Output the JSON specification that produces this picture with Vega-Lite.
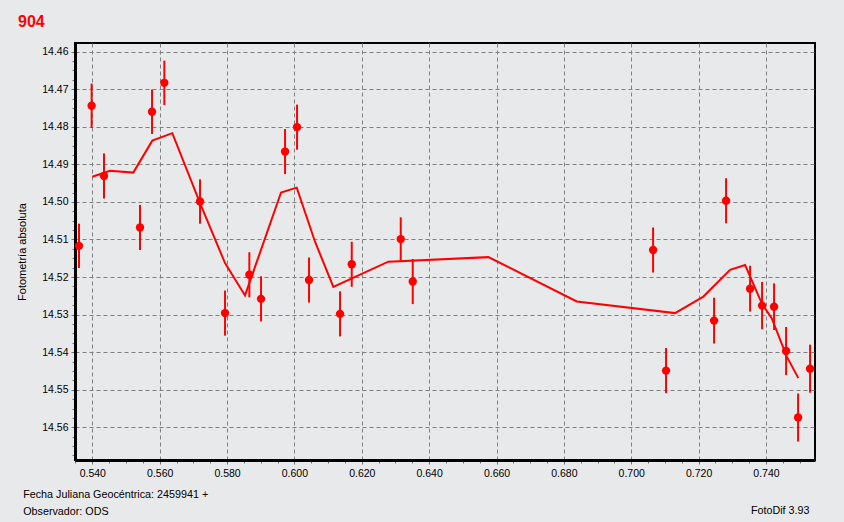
{
  "$schema": "https://vega.github.io/schema/vega-lite/v6.json",
  "width": 740,
  "height": 417,
  "autosize": {"type": "none"},
  "padding": {"left": 75, "top": 43, "right": 29, "bottom": 62},
  "background": "#e8e9ea",
  "title": {
    "text": "904",
    "anchor": "start",
    "frame": "group",
    "dx": -57,
    "dy": 17,
    "offset": 17,
    "baseline": "alphabetic",
    "color": "#ff0000",
    "font": "Liberation Sans",
    "fontSize": 16,
    "fontWeight": "bold"
  },
  "config": {
    "view": {"stroke": "#000000", "strokeWidth": 2, "fill": "#e8e9ea"},
    "axis": {
      "labelFont": "Liberation Sans",
      "labelFontSize": 10.5,
      "labelColor": "#000000",
      "titleFont": "Liberation Sans",
      "titleFontWeight": "normal",
      "titleColor": "#000000",
      "gridColor": "#808080",
      "gridDash": [4, 3],
      "gridWidth": 1,
      "tickColor": "#707070",
      "domain": true,
      "domainColor": "#000000",
      "domainWidth": 3
    }
  },
  "datasets": {
    "obs": [
      {"jd": 0.53605, "mag": 14.5117, "lo": 14.5058, "hi": 14.5176},
      {"jd": 0.5398, "mag": 14.4744, "lo": 14.4685, "hi": 14.4803},
      {"jd": 0.54347, "mag": 14.4931, "lo": 14.4871, "hi": 14.4991},
      {"jd": 0.55416, "mag": 14.5068, "lo": 14.5008, "hi": 14.5128},
      {"jd": 0.55773, "mag": 14.476, "lo": 14.4701, "hi": 14.4819},
      {"jd": 0.56138, "mag": 14.4683, "lo": 14.4624, "hi": 14.4742},
      {"jd": 0.57198, "mag": 14.4999, "lo": 14.494, "hi": 14.5058},
      {"jd": 0.5794, "mag": 14.5296, "lo": 14.5236, "hi": 14.5356},
      {"jd": 0.58662, "mag": 14.5194, "lo": 14.5134, "hi": 14.5254},
      {"jd": 0.59009, "mag": 14.5258, "lo": 14.5198, "hi": 14.5318},
      {"jd": 0.59722, "mag": 14.4866, "lo": 14.4806, "hi": 14.4926},
      {"jd": 0.60078, "mag": 14.4801, "lo": 14.4741, "hi": 14.4861},
      {"jd": 0.60434, "mag": 14.5208, "lo": 14.5148, "hi": 14.5268},
      {"jd": 0.61355, "mag": 14.5298, "lo": 14.5238, "hi": 14.5358},
      {"jd": 0.61702, "mag": 14.5166, "lo": 14.5106, "hi": 14.5226},
      {"jd": 0.63157, "mag": 14.5099, "lo": 14.5041, "hi": 14.5157},
      {"jd": 0.63513, "mag": 14.5212, "lo": 14.5152, "hi": 14.5272},
      {"jd": 0.70648, "mag": 14.5128, "lo": 14.5068, "hi": 14.5188},
      {"jd": 0.71033, "mag": 14.5449, "lo": 14.5389, "hi": 14.5509},
      {"jd": 0.72459, "mag": 14.5316, "lo": 14.5255, "hi": 14.5377},
      {"jd": 0.72815, "mag": 14.4997, "lo": 14.4937, "hi": 14.5057},
      {"jd": 0.73528, "mag": 14.5231, "lo": 14.517, "hi": 14.5292},
      {"jd": 0.73884, "mag": 14.5276, "lo": 14.5213, "hi": 14.5339},
      {"jd": 0.7424, "mag": 14.5279, "lo": 14.5217, "hi": 14.5341},
      {"jd": 0.74597, "mag": 14.5397, "lo": 14.5333, "hi": 14.5461},
      {"jd": 0.74953, "mag": 14.5574, "lo": 14.551, "hi": 14.5638},
      {"jd": 0.75309, "mag": 14.5444, "lo": 14.538, "hi": 14.5508}
    ],
    "model": [
      {"jd": 0.54, "mag": 14.4933},
      {"jd": 0.54526, "mag": 14.4917},
      {"jd": 0.55217, "mag": 14.4922},
      {"jd": 0.55781, "mag": 14.4837},
      {"jd": 0.56375, "mag": 14.4817},
      {"jd": 0.57198, "mag": 14.5003},
      {"jd": 0.5794, "mag": 14.5163},
      {"jd": 0.58534, "mag": 14.5249},
      {"jd": 0.59603, "mag": 14.4975},
      {"jd": 0.60069, "mag": 14.4962},
      {"jd": 0.60612, "mag": 14.5106},
      {"jd": 0.61156, "mag": 14.5226},
      {"jd": 0.62789, "mag": 14.5159},
      {"jd": 0.65758, "mag": 14.5147},
      {"jd": 0.68382, "mag": 14.5265},
      {"jd": 0.71301, "mag": 14.5296},
      {"jd": 0.72141, "mag": 14.5252},
      {"jd": 0.72934, "mag": 14.5181},
      {"jd": 0.7338, "mag": 14.5168},
      {"jd": 0.73875, "mag": 14.527},
      {"jd": 0.74172, "mag": 14.531},
      {"jd": 0.74618, "mag": 14.5412},
      {"jd": 0.74962, "mag": 14.5469}
    ]
  },
  "layer": [
    {
      "data": {"name": "obs"},
      "mark": {"type": "point", "filled": true, "shape": "circle", "size": 70, "color": "#ff0000", "opacity": 1},
      "encoding": {
        "x": {
          "field": "jd",
          "type": "quantitative",
          "scale": {"domain": [0.53486, 0.75455], "nice": false, "zero": false},
          "axis": {
            "title": ["Fecha Juliana Geocéntrica: 2459941 +", "Observador: ODS"],
            "titleFontSize": 10.75,
            "titleX": -52.3,
            "titleY": 37.7,
            "titleAlign": "left",
            "titleAnchor": "start",
            "titleBaseline": "alphabetic",
            "titleLineHeight": 16.5,
            "values": [0.535, 0.54, 0.545, 0.55, 0.555, 0.56, 0.565, 0.57, 0.575, 0.58, 0.585, 0.59, 0.595, 0.6, 0.605, 0.61, 0.615, 0.62, 0.625, 0.63, 0.635, 0.64, 0.645, 0.65, 0.655, 0.66, 0.665, 0.67, 0.675, 0.68, 0.685, 0.69, 0.695, 0.7, 0.705, 0.71, 0.715, 0.72, 0.725, 0.73, 0.735, 0.74, 0.745, 0.75],
            "labelExpr": "abs(datum.value*50 - round(datum.value*50)) < 0.01 ? format(datum.value, '.3f') : ''",
            "labelPadding": 4,
            "labelFlush": false,
            "labelOverlap": false,
            "grid": true,
            "gridOpacity": {"condition": {"test": "abs(datum.value*50 - round(datum.value*50)) < 0.01", "value": 1}, "value": 0},
            "tickSize": {"condition": {"test": "abs(datum.value*50 - round(datum.value*50)) < 0.01", "value": 4}, "value": 3}
          }
        },
        "y": {
          "field": "mag",
          "type": "quantitative",
          "scale": {"domain": [14.4577, 14.5687], "reverse": true, "nice": false, "zero": false},
          "axis": {
            "title": "Fotometría absoluta",
            "titleFontSize": 11,
            "titleAngle": 270,
            "titleX": -52.5,
            "titleY": 208.5,
            "titleAlign": "center",
            "titleBaseline": "middle",
            "values": [14.46, 14.4625, 14.465, 14.4675, 14.47, 14.4725, 14.475, 14.4775, 14.48, 14.4825, 14.485, 14.4875, 14.49, 14.4925, 14.495, 14.4975, 14.5, 14.5025, 14.505, 14.5075, 14.51, 14.5125, 14.515, 14.5175, 14.52, 14.5225, 14.525, 14.5275, 14.53, 14.5325, 14.535, 14.5375, 14.54, 14.5425, 14.545, 14.5475, 14.55, 14.5525, 14.555, 14.5575, 14.56, 14.5625, 14.565, 14.5675],
            "labelExpr": "abs(datum.value*100 - round(datum.value*100)) < 0.01 ? format(datum.value, '.2f') : ''",
            "labelPadding": 3,
            "labelOverlap": false,
            "grid": true,
            "gridOpacity": {"condition": {"test": "abs(datum.value*100 - round(datum.value*100)) < 0.01", "value": 1}, "value": 0},
            "tickSize": {"condition": {"test": "abs(datum.value*100 - round(datum.value*100)) < 0.01", "value": 4}, "value": 3}
          }
        }
      }
    },
    {
      "data": {"name": "obs"},
      "mark": {"type": "rule", "color": "#ff0000", "strokeWidth": 2},
      "encoding": {
        "x": {"field": "jd", "type": "quantitative", "axis": null},
        "y": {"field": "lo", "type": "quantitative", "axis": null},
        "y2": {"field": "hi"}
      }
    },
    {
      "data": {"name": "model"},
      "mark": {"type": "line", "color": "#ff0000", "strokeWidth": 2},
      "encoding": {
        "x": {"field": "jd", "type": "quantitative", "axis": null},
        "y": {
          "field": "mag",
          "type": "quantitative",
          "axis": {
            "orient": "right",
            "title": "FotoDif 3.93",
            "titleFontSize": 10.75,
            "titleAngle": 0,
            "titleAlign": "right",
            "titleBaseline": "alphabetic",
            "titleX": -6,
            "titleY": 470.7,
            "labels": false,
            "ticks": false,
            "domain": false,
            "grid": false
          }
        }
      }
    }
  ],
  "resolve": {"axis": {"x": "independent", "y": "independent"}}
}
